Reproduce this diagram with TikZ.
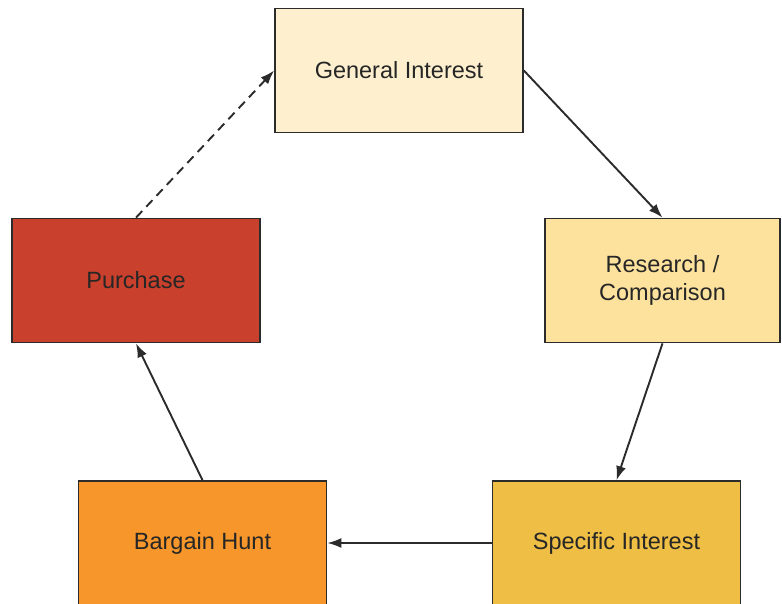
\documentclass[tikz,border=0pt]{standalone}
\usepackage{fontspec}
\setmainfont{Liberation Sans}
\usetikzlibrary{arrows.meta}
\definecolor{giCol}{HTML}{FEF0CF}
\definecolor{rcCol}{HTML}{FDE29E}
\definecolor{puCol}{HTML}{C9402C}
\definecolor{bhCol}{HTML}{F7962A}
\definecolor{siCol}{HTML}{EFBE44}
\definecolor{edgeCol}{HTML}{2B2B2B}
\tikzset{
  stage/.style={draw=edgeCol,line width=1.7pt,minimum width=248pt,minimum height=124pt,
    inner sep=0pt,align=center,text=black!85,font=\fontsize{23.5}{28}\selectfont},
  flow/.style={draw=edgeCol,line width=1.9pt,-{Latex[length=14pt,width=10pt]}}
}

\begin{document}
\begin{tikzpicture}
  \clip (0,0) rectangle (782pt,-603pt);
  \fill[white] (0,0) rectangle (782pt,-603pt);
  \node[stage,fill=giCol] (gi) at (399pt,-70.5pt) {General Interest};
  \node[stage,fill=rcCol,minimum width=235pt] (rc) at (662.5pt,-280.5pt) {Research /\\Comparison};
  \node[stage,fill=puCol] (pu) at (136pt,-280.5pt) {Purchase};
  \node[stage,fill=bhCol] (bh) at (202.5pt,-543pt) {Bargain Hunt};
  \node[stage,fill=siCol] (si) at (616.5pt,-543pt) {Specific Interest};
  \draw[flow] (gi.east) -- (rc.north);
  \draw[flow] (rc.south) -- (si.north);
  \draw[flow] (si.west) -- (bh.east);
  \draw[flow] (bh.north) -- (pu.south);
  \draw[flow,dash pattern=on 9pt off 6pt] (pu.north) -- (gi.west);
\end{tikzpicture}
\end{document}
